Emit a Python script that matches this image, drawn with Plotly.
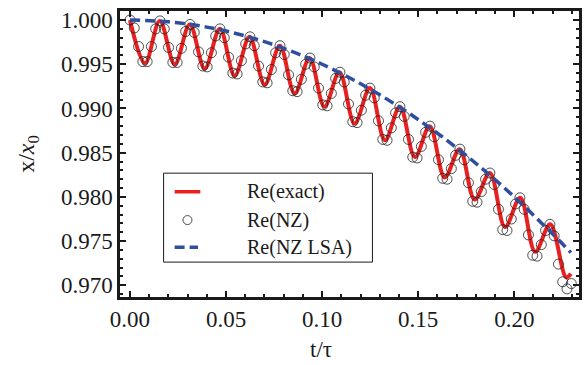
import plotly.graph_objects as go

# Re(exact): turning points of the oscillating solution (t/tau, x/x0)
peak_t = [0.0, 0.0155, 0.0311, 0.0468, 0.0622, 0.0780, 0.0935, 0.1090,
          0.1249, 0.1405, 0.1560, 0.1716, 0.1873, 0.2031, 0.2187]
peak_x = [1.0000, 0.9999, 0.9995, 0.9990, 0.9981, 0.9971, 0.9957, 0.9941,
          0.9923, 0.9902, 0.9880, 0.9854, 0.9827, 0.9799, 0.9769]
trough_t = [0.0078, 0.0233, 0.0389, 0.0545, 0.0701, 0.0857, 0.1012, 0.1169,
            0.1327, 0.1483, 0.1638, 0.1794, 0.1952, 0.2109, 0.2270]
trough_x = [0.9951, 0.9950, 0.9945, 0.9937, 0.9927, 0.9917, 0.9902, 0.9883,
            0.9864, 0.9845, 0.9822, 0.9797, 0.9766, 0.9738, 0.9709]
end_t, end_x = 0.2295, 0.9713

# Re(NZ): sampled solution on a uniform time grid
nz_dt = 0.00223
nz_x = [
    1.0000, 0.9991, 0.9970, 0.9953, 0.9953, 0.9970, 0.9990,
    0.9999, 0.9990, 0.9969, 0.9952, 0.9952, 0.9968, 0.9987,
    0.9995, 0.9986, 0.9964, 0.9948, 0.9947, 0.9963, 0.9982,
    0.9990, 0.9980, 0.9958, 0.9940, 0.9939, 0.9954, 0.9973,
    0.9981, 0.9971, 0.9948, 0.9930, 0.9929, 0.9944, 0.9963,
    0.9971, 0.9961, 0.9938, 0.9920, 0.9919, 0.9933, 0.9950,
    0.9957, 0.9947, 0.9923, 0.9904, 0.9903, 0.9917, 0.9934,
    0.9941, 0.9930, 0.9905, 0.9885, 0.9884, 0.9898, 0.9915,
    0.9923, 0.9912, 0.9886, 0.9865, 0.9864, 0.9878, 0.9895,
    0.9902, 0.9891, 0.9865, 0.9845, 0.9844, 0.9857, 0.9873,
    0.9880, 0.9868, 0.9842, 0.9821, 0.9820, 0.9832, 0.9847,
    0.9854, 0.9842, 0.9816, 0.9795, 0.9794, 0.9806, 0.9820,
    0.9827, 0.9814, 0.9786, 0.9763, 0.9762, 0.9775, 0.9792,
    0.9799, 0.9786, 0.9757, 0.9734, 0.9733, 0.9746, 0.9762,
    0.9769, 0.9756, 0.9724, 0.9704, 0.9696, 0.9702,
]
nz_t = [i * nz_dt for i in range(len(nz_x))]

# Re(NZ LSA): slowly varying envelope
lsa_t = [0.00, 0.02, 0.04, 0.06, 0.08, 0.10, 0.12, 0.14, 0.16, 0.18, 0.20, 0.22, 0.2295]
lsa_x = [1.0000, 0.9998, 0.9992, 0.9982, 0.9968, 0.9950, 0.9928, 0.9902,
         0.9872, 0.9838, 0.9800, 0.9758, 0.9737]

x_ticks = [0.00, 0.05, 0.10, 0.15, 0.20]
y_ticks = [0.970, 0.975, 0.980, 0.985, 0.990, 0.995, 1.000]

series_names = ["Re(exact)", "Re(NZ)", "Re(NZ LSA)"]

# interleave peaks and troughs for the exact curve
exact_t, exact_x = [], []
for i in range(len(peak_t)):
    exact_t += [peak_t[i], trough_t[i]]
    exact_x += [peak_x[i], trough_x[i]]
exact_t.append(end_t)
exact_x.append(end_x)

SERIF = "Liberation Serif, Times New Roman, serif"
INK = "#1a1a1a"
RED = "#E8201F"
BLUE = "#2F4EA0"
CIRC = "#222222"

fig = go.Figure()
fig.add_trace(go.Scatter(
    x=exact_t, y=exact_x, mode="lines", name=series_names[0],
    line=dict(color=RED, width=4, shape="spline", smoothing=1.0),
))
fig.add_trace(go.Scatter(
    x=nz_t, y=nz_x, mode="markers", name=series_names[1],
    marker=dict(symbol="circle-open", size=10, color=CIRC,
                line=dict(width=0.8, color=CIRC)),
))
fig.add_trace(go.Scatter(
    x=lsa_t, y=lsa_x, mode="lines", name=series_names[2],
    line=dict(color=BLUE, width=3.5, dash="10px,5px", shape="spline"),
))

axis_common = dict(
    showline=True, linewidth=2.5, linecolor=INK, mirror="allticks",
    ticks="inside", ticklen=6, tickwidth=2, tickcolor=INK,
    showgrid=False, zeroline=False,
    tickfont=dict(family=SERIF, size=23, color=INK),
)

fig.update_xaxes(
    range=[-0.0052, 0.2337], tickvals=x_ticks,
    ticktext=[f"{v:.2f}" for v in x_ticks],
    minor=dict(dtick=0.01, tick0=0, ticks="inside", ticklen=3.5,
               tickwidth=1.5, tickcolor=INK),
    **axis_common,
)
fig.update_yaxes(
    range=[0.96868, 1.00102], tickvals=y_ticks,
    ticktext=[f"{v:.3f}" for v in y_ticks],
    minor=dict(dtick=0.001, tick0=0.97, ticks="inside", ticklen=3.5,
               tickwidth=1.5, tickcolor=INK),
    title=dict(text="x/<i>x</i><sub>0</sub>",
               font=dict(family=SERIF, size=24, color=INK), standoff=20),
    **axis_common,
)

fig.add_annotation(
    text="t/τ", xref="paper", yref="paper", x=0.437, y=-0.185,
    xanchor="center", yanchor="middle", showarrow=False,
    font=dict(family=SERIF, size=23, color=INK),
)

# legend box drawn by hand: frame, keys and labels
fig.add_shape(type="rect", xref="paper", yref="paper",
              x0=0.095, x1=0.550, y0=0.122, y1=0.433,
              line=dict(color=INK, width=1), fillcolor="white", layer="below")

row_y = [0.368, 0.269, 0.174]
key_x0, key_x1, key_mid = 0.119, 0.175, 0.147
label_x = 0.272

fig.add_shape(type="line", xref="paper", yref="paper",
              x0=key_x0, x1=key_x1, y0=row_y[0], y1=row_y[0],
              line=dict(color=RED, width=3.5))
fig.add_shape(type="circle", xref="paper", yref="paper",
              xsizemode="pixel", ysizemode="pixel",
              xanchor=key_mid, yanchor=row_y[1],
              x0=-4.5, x1=4.5, y0=-4.5, y1=4.5,
              line=dict(color=CIRC, width=0.8))
fig.add_shape(type="line", xref="paper", yref="paper",
              x0=key_x0, x1=key_x1 - 0.005, y0=row_y[2], y1=row_y[2],
              line=dict(color=BLUE, width=3.5, dash="10px,5px"))

for name, yy in zip(series_names, row_y):
    fig.add_annotation(
        text=name, xref="paper", yref="paper", x=label_x, y=yy,
        xanchor="left", yanchor="middle", showarrow=False,
        font=dict(family=SERIF, size=20, color=INK),
    )

fig.update_layout(
    width=584, height=365,
    margin=dict(l=120, r=2, t=11, b=68),
    paper_bgcolor="white", plot_bgcolor="white",
    showlegend=False,
)

fig.write_html("out.html")
